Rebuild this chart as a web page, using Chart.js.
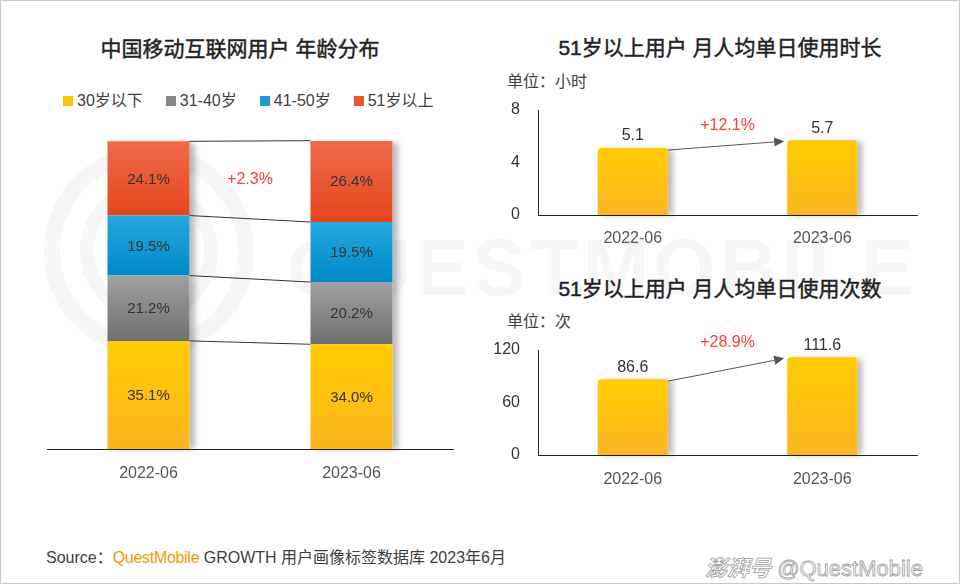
<!DOCTYPE html>
<html><head><meta charset="utf-8">
<script src="https://cdn.jsdelivr.net/npm/chart.js@4.4.0/dist/chart.umd.min.js"></script>
<style>
html,body{margin:0;padding:0;background:#fff;}
#frame{position:relative;width:960px;height:584px;overflow:hidden;font-family:"Liberation Sans","Noto Sans CJK SC",sans-serif;color:#333;background:#fff;}
#border{position:absolute;left:0;top:0;width:960px;height:584px;box-sizing:border-box;border:1px solid #c8c8c8;pointer-events:none;}
.abs{position:absolute;white-space:nowrap;}
.title{font-size:21px;line-height:21px;font-weight:normal;color:#222;-webkit-text-stroke:0.45px #222;text-align:center;font-family:"Liberation Sans","Noto Sans CJK SC",sans-serif;}
.unit{font-size:16px;line-height:16px;color:#404040;}
canvas{position:absolute;}
#legend{position:absolute;left:63px;top:93px;display:flex;gap:23px;font-size:16px;line-height:16px;color:#404040;}
#legend .it{display:flex;align-items:center;}
#legend .mk{width:10px;height:10px;margin-right:4px;}
.ring{position:absolute;border-radius:50%;box-sizing:border-box;border-style:solid;border-color:#f6f6f6;}
</style></head>
<body><div id="frame">
  <div class="ring" style="left:44px;top:146px;width:210px;height:210px;border-width:16px;"></div>
  <div class="ring" style="left:80px;top:182px;width:138px;height:138px;border-width:14px;"></div>
  <div class="abs" style="left:287px;top:228px;font-size:80px;line-height:80px;letter-spacing:4px;font-weight:bold;color:#f6f6f6;font-family:'Liberation Sans',sans-serif;">QUESTMOBILE</div>

  <div class="abs title" style="left:0;width:480px;top:38px;">中国移动互联网用户 年龄分布</div>
  <div id="legend"></div>
  <div class="abs title" style="left:480px;width:480px;top:37px;">51岁以上用户 月人均单日使用时长</div>
  <div class="abs unit" style="left:507px;top:74px;">单位：小时</div>
  <div class="abs title" style="left:480px;width:480px;top:278px;">51岁以上用户 月人均单日使用次数</div>
  <div class="abs unit" style="left:507px;top:314px;">单位：次</div>

  <canvas id="c1" width="480" height="500" style="left:0;top:0;"></canvas>
  <canvas id="c2" width="470" height="160" style="left:480px;top:95px;"></canvas>
  <canvas id="c3" width="470" height="160" style="left:480px;top:335px;"></canvas>

  <div class="abs" style="left:46px;top:550px;font-size:16px;line-height:16px;color:#404040;">Source：<span style="color:#F39800;letter-spacing:-0.3px;">QuestMobile</span> GROWTH 用户画像标签数据库 2023年6月</div>
  <div class="abs" style="left:705px;top:555px;font-size:22px;line-height:22px;color:#fff;-webkit-text-stroke:0.8px #a0a0a0;"><span style="font-style:italic;font-weight:bold;font-family:'Noto Sans CJK SC';">澎湃号</span> @QuestMobile</div>
  <div id="border"></div>
</div>
<script>
// ---------- data ----------
const ageCategories = ['2022-06', '2023-06'];
const ageSeriesNames = ['30岁以下', '31-40岁', '41-50岁', '51岁以上'];
const age30 = [35.1, 34.0];
const age31to40 = [21.2, 20.2];
const age41to50 = [19.5, 19.5];
const age51plus = [24.1, 26.4];
const ageChangeLabel = '+2.3%';

const durCategories = ['2022-06', '2023-06'];
const durValues = [5.1, 5.7];
const durTicks = [0, 4, 8];
const durChangeLabel = '+12.1%';

const cntCategories = ['2022-06', '2023-06'];
const cntValues = [86.6, 111.6];
const cntTicks = [0, 60, 120];
const cntChangeLabel = '+28.9%';

// ---------- styles ----------
const ageSeries = [age30, age31to40, age41to50, age51plus];
const ageGrad = [['#FFCC00', '#FBB520'], ['#A0A0A0', '#6F6F6F'], ['#25A9DF', '#0088C7'], ['#EE6B4B', '#E4461C']];
const ageLegendColors = ['#FDC20E', '#888888', '#1A9BD6', '#E9562F'];
const barGrad = ['#FFCC00', '#FBB622'];
const FONT = '"Liberation Sans","Noto Sans CJK SC",sans-serif';

// legend
const lg = document.getElementById('legend');
ageSeriesNames.forEach((n, k) => {
  const it = document.createElement('div'); it.className = 'it';
  it.innerHTML = '<span class="mk" style="background:' + ageLegendColors[k] + '"></span><span>' + n + '</span>';
  lg.appendChild(it);
});

Chart.defaults.font.family = FONT;
Chart.defaults.animation = false;

function stackGrad(ctx, k) {
  const chart = ctx.chart, i = ctx.dataIndex;
  if (!chart.chartArea || i === undefined) return ageGrad[k][0];
  let lo = 0; for (let j = 0; j < k; j++) lo += ageSeries[j][i];
  const hi = lo + ageSeries[k][i];
  const ys = chart.scales.y;
  const g = chart.ctx.createLinearGradient(0, ys.getPixelForValue(hi), 0, ys.getPixelForValue(lo));
  g.addColorStop(0, ageGrad[k][0]); g.addColorStop(1, ageGrad[k][1]);
  return g;
}
function barGradient(ctx, values) {
  const chart = ctx.chart, i = ctx.dataIndex;
  if (!chart.chartArea || i === undefined) return barGrad[0];
  const ys = chart.scales.y;
  const g = chart.ctx.createLinearGradient(0, ys.getPixelForValue(values[i]), 0, ys.getPixelForValue(0));
  g.addColorStop(0, barGrad[0]); g.addColorStop(1, barGrad[1]);
  return g;
}
function drawShadow(ctx, x0, y0, w, h) {
  ctx.save();
  ctx.fillStyle = '#ffffff';
  ctx.shadowColor = 'rgba(0,0,0,0.28)';
  ctx.shadowBlur = 6;
  ctx.shadowOffsetX = 5;
  ctx.shadowOffsetY = 0;
  ctx.fillRect(x0, y0 + 2, w, h - 2);
  ctx.restore();
}
function drawArrow(ctx, x1, y1, x2, y2) {
  const a = Math.atan2(y2 - y1, x2 - x1), L = 10, W = 4.5;
  const bx = x2 - L * Math.cos(a), by = y2 - L * Math.sin(a);
  ctx.save();
  ctx.strokeStyle = '#555'; ctx.fillStyle = '#555'; ctx.lineWidth = 1;
  ctx.beginPath(); ctx.moveTo(x1, y1); ctx.lineTo(bx, by); ctx.stroke();
  ctx.beginPath(); ctx.moveTo(x2, y2);
  ctx.lineTo(bx + W * Math.sin(a), by - W * Math.cos(a));
  ctx.lineTo(bx - W * Math.sin(a), by + W * Math.cos(a));
  ctx.closePath(); ctx.fill();
  ctx.restore();
}

// ---------- left stacked chart ----------
const agePlugin = {
  id: 'ageDecor',
  beforeDatasetsDraw(chart) {
    const ctx = chart.ctx, n = chart.data.datasets.length;
    const topMeta = chart.getDatasetMeta(n - 1), botMeta = chart.getDatasetMeta(0);
    topMeta.data.forEach((el, i) => {
      const b = botMeta.data[i];
      drawShadow(ctx, el.x - el.width / 2, el.y, el.width, b.base - el.y);
    });
  },
  afterDatasetsDraw(chart) {
    const ctx = chart.ctx, n = chart.data.datasets.length;
    ctx.save();
    ctx.strokeStyle = '#333'; ctx.lineWidth = 1;
    for (let k = 0; k < n; k++) {
      const m = chart.getDatasetMeta(k);
      const a = m.data[0], b = m.data[1];
      ctx.beginPath();
      ctx.moveTo(a.x + a.width / 2, a.y);
      ctx.lineTo(b.x - b.width / 2, b.y);
      ctx.stroke();
    }
    ctx.font = '15px ' + FONT; ctx.fillStyle = '#333';
    ctx.textAlign = 'center'; ctx.textBaseline = 'middle';
    for (let k = 0; k < n; k++) {
      const m = chart.getDatasetMeta(k);
      m.data.forEach((el, i) => {
        ctx.fillText(ageSeries[k][i].toFixed(1) + '%', el.x, (el.y + el.base) / 2 + 1);
      });
    }
    const mt = chart.getDatasetMeta(n - 1);
    const a = mt.data[0], b = mt.data[1];
    ctx.font = '16px ' + FONT; ctx.fillStyle = '#FF3B3B';
    ctx.fillText(ageChangeLabel, (a.x + b.x) / 2, (a.y + a.base) / 2 + 1);
    ctx.restore();
  }
};

new Chart(document.getElementById('c1'), {
  type: 'bar',
  data: {
    labels: ageCategories,
    datasets: ageSeries.map((vals, k) => ({
      label: ageSeriesNames[k], data: vals,
      backgroundColor: (ctx) => stackGrad(ctx, k),
      borderWidth: 0, barPercentage: 0.404, categoryPercentage: 1
    }))
  },
  options: {
    responsive: false, animation: false,
    layout: { padding: { left: 47, right: 27, top: 141, bottom: 0 } },
    plugins: { legend: { display: false }, tooltip: { enabled: false } },
    scales: {
      x: {
        stacked: true,
        grid: { display: false, drawTicks: false },
        border: { display: true, color: '#222', width: 1 },
        ticks: { color: '#555', font: { size: 16 }, padding: 15 },
        afterFit(s) { s.height = 51; s.paddingLeft = 0; s.paddingRight = 0; }
      },
      y: { stacked: true, display: false, min: 0, max: 100 }
    }
  },
  plugins: [agePlugin]
});

// ---------- right bar charts ----------
function makeBarPlugin(values, changeLabel) {
  return {
    id: 'barDecor',
    beforeDatasetsDraw(chart) {
      const ctx = chart.ctx;
      chart.getDatasetMeta(0).data.forEach(el => {
        drawShadow(ctx, el.x - el.width / 2, el.y, el.width, el.base - el.y);
      });
    },
    afterDatasetsDraw(chart) {
      const ctx = chart.ctx;
      const els = chart.getDatasetMeta(0).data;
      ctx.save();
      ctx.font = '16px ' + FONT; ctx.fillStyle = '#333';
      ctx.textAlign = 'center'; ctx.textBaseline = 'middle';
      els.forEach((el, i) => ctx.fillText(String(values[i]), el.x, el.y - 12));
      const a = els[0], b = els[1];
      drawArrow(ctx, a.x + a.width / 2, a.y + 2, b.x - b.width / 2 - 3, b.y + 1);
      ctx.font = '16px ' + FONT; ctx.fillStyle = '#FF3B3B';
      ctx.fillText(changeLabel, (a.x + b.x) / 2, Math.min(a.y, b.y) - 15);
      ctx.restore();
    }
  };
}
function makeBarChart(id, cats, values, ticks, changeLabel, xPad) {
  return new Chart(document.getElementById(id), {
    type: 'bar',
    data: {
      labels: cats,
      datasets: [{
        data: values,
        backgroundColor: (ctx) => barGradient(ctx, values),
        borderWidth: 0,
        borderRadius: { topLeft: 4, topRight: 4, bottomLeft: 0, bottomRight: 0 },
        borderSkipped: 'start',
        barPercentage: 0.37, categoryPercentage: 1
      }]
    },
    options: {
      responsive: false, animation: false,
      layout: { padding: { left: 0, right: 33, top: 15, bottom: 0 } },
      plugins: { legend: { display: false }, tooltip: { enabled: false } },
      scales: {
        x: {
          grid: { display: false, drawTicks: false },
          border: { display: true, color: '#222', width: 1 },
          ticks: { color: '#555', font: { size: 16 }, padding: xPad },
          afterFit(s) { s.height = 40; s.paddingLeft = 0; s.paddingRight = 0; }
        },
        y: {
          min: ticks[0], max: ticks[ticks.length - 1], afterBuildTicks(s) { s.ticks = ticks.map(v => ({ value: v })); },
          grid: { display: false, drawTicks: false },
          border: { display: true, color: '#222', width: 1 },
          ticks: { color: '#333', font: { size: 16 }, padding: 18 },
          afterFit(s) { s.width = 58; s.paddingTop = 0; s.paddingBottom = 0; }
        }
      }
    },
    plugins: [makeBarPlugin(values, changeLabel)]
  });
}
makeBarChart('c2', durCategories, durValues, durTicks, durChangeLabel, 14);
makeBarChart('c3', cntCategories, cntValues, cntTicks, cntChangeLabel, 15);
</script>
</body></html>
